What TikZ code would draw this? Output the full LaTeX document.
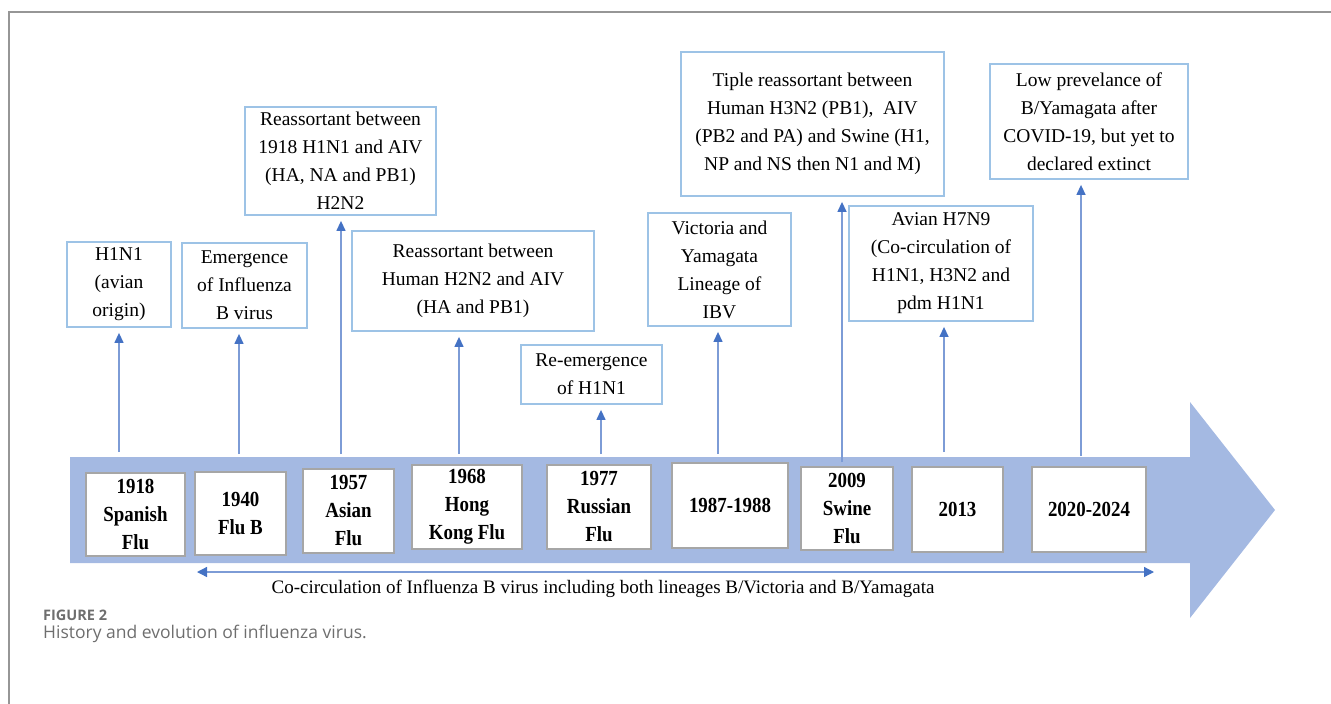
\documentclass[tikz,border=0pt]{standalone}
\usepackage{fontspec}
\setmainfont{Liberation Serif}
\newfontfamily\capfont{Open Sans}
\newfontfamily\yearfont{Liberation Serif}[FakeStretch=0.88]
\usetikzlibrary{arrows.meta}
\definecolor{bandblue}{RGB}{164,185,226}
\definecolor{boxblue}{RGB}{157,195,230}
\definecolor{shaftblue}{RGB}{125,156,214}
\definecolor{tipblue}{RGB}{68,114,196}
\definecolor{yrgray}{RGB}{166,166,166}
\definecolor{framegray}{RGB}{150,150,150}
\definecolor{capgray}{RGB}{110,110,110}
\tikzset{
  evt_b/.style = {draw=boxblue, line width=1.8pt, fill=white, align=center,
    inner sep=0pt, font=\fontsize{19.5}{28}\selectfont},% event box, blue frame
  yr_b/.style = {draw=yrgray, line width=1.8pt, fill=white, align=center,
    inner sep=0pt, font=\yearfont\bfseries\fontsize{21.5}{28}\selectfont},% year box on the band
  up_arr/.style = {draw=shaftblue, line width=1.3pt,
    -{Triangle[width=9pt,length=10pt,color=tipblue]}, shorten >=5pt}% year -> event
}

\begin{document}
\begin{tikzpicture}[x=1pt,y=-1pt]

	\useasboundingbox (0,0) rectangle (1331,704);
	\draw[framegray, line width=1.2pt] (9,704) -- (9,12) -- (1331,12);

	% time band
	\fill[bandblue] (70,457) -- (1190,457) -- (1190,402) -- (1275,510)
		-- (1190,618) -- (1190,563) -- (70,563) -- cycle;

	% years
	\node [yr_b, minimum width=99pt, minimum height=83pt] (y1918) at (135.5,514.5) {1918\\Spanish\\Flu};
	\node [yr_b, minimum width=91pt, minimum height=83pt] (y1940) at (240.5,513.5) {1940\\Flu B};
	\node [yr_b, minimum width=91pt, minimum height=84pt] (y1957) at (348.5,511) {1957\\Asian\\Flu};
	\node [yr_b, minimum width=110pt, minimum height=84pt] (y1968) at (467,507) {1968\\Hong\\Kong Flu};
	\node [yr_b, minimum width=104pt, minimum height=84pt] (y1977) at (599,507) {1977\\Russian\\Flu};
	\node [yr_b, minimum width=116pt, minimum height=85pt] (y1987) at (730,505.5) {1987-1988};
	\node [yr_b, minimum width=92pt, minimum height=83pt] (y2009) at (847,508.5) {2009\\Swine\\Flu};
	\node [yr_b, minimum width=91pt, minimum height=85pt] (y2013) at (957.5,509.5) {2013};
	\node [yr_b, minimum width=114pt, minimum height=85pt] (y2020) at (1089,509.5) {2020-2024};

	% events
	\node [evt_b, minimum width=104pt, minimum height=85pt] (h1n1) at (119,284.5) {H1N1\\(avian\\origin)};
	\node [evt_b, minimum width=125pt, minimum height=85pt] (flub) at (244.5,285.5) {Emergence\\of Influenza\\B virus};
	\node [evt_b, minimum width=191pt, minimum height=108pt] (h2n2) at (340.5,161) {Reassortant between\\1918 H1N1 and AIV\\(HA, NA and PB1)\\H2N2};
	\node [evt_b, minimum width=242pt, minimum height=100pt] (hkflu) at (473,281) {Reassortant between\\Human H2N2 and AIV\\(HA and PB1)};
	\node [evt_b, minimum width=141pt, minimum height=59pt] (reem) at (591.5,374.5) {Re-emergence\\of H1N1};
	\node [evt_b, minimum width=143pt, minimum height=113pt] (vicyam) at (719.5,269.5) {Victoria and\\Yamagata\\Lineage of\\IBV};
	\node [evt_b, minimum width=263pt, minimum height=144pt] (triple) at (812.5,124) {Tiple reassortant between\\Human H3N2 (PB1),~~AIV\\(PB2 and PA) and Swine (H1,\\NP and NS then N1 and M)};
	\node [evt_b, minimum width=184pt, minimum height=115pt] (h7n9) at (941,263.5) {Avian H7N9\\(Co-circulation of\\H1N1, H3N2 and\\pdm H1N1};
	\node [evt_b, minimum width=198pt, minimum height=115pt] (lowyam) at (1089,121.5) {Low prevelance of\\B/Yamagata after\\COVID-19, but yet to\\declared extinct};

	% arrows up from the band
	\coordinate (a1918) at (119,452);
	\coordinate (a1940) at (239,454);
	\coordinate (a1957) at (341,454);
	\coordinate (a1968) at (459,454);
	\coordinate (a1977) at (601,454);
	\coordinate (a1987) at (718,454);
	\coordinate (a2009) at (842,462);
	\coordinate (a2013) at (944,452);
	\coordinate (a2020) at (1081,456);
	\draw [up_arr] (a1918) -- (a1918 |- h1n1.south);
	\draw [up_arr] (a1940) -- (a1940 |- flub.south);
	\draw [up_arr] (a1957) -- (a1957 |- h2n2.south);
	\draw [up_arr] (a1968) -- (a1968 |- hkflu.south);
	\draw [up_arr] (a1977) -- (a1977 |- reem.south);
	\draw [up_arr] (a1987) -- (a1987 |- vicyam.south);
	\draw [up_arr] (a2009) -- (a2009 |- triple.south);
	\draw [up_arr] (a2013) -- (a2013 |- h7n9.south);
	\draw [up_arr] (a2020) -- (a2020 |- lowyam.south);

	% co-circulation span
	\coordinate (cl) at (197,572);
	\coordinate (cr) at (1154,572);
	\draw [shaftblue, line width=1.3pt, {Triangle[width=10pt,length=10pt,color=tipblue]}-{Triangle[width=10pt,length=10pt,color=tipblue]}] (cl) -- (cr);
	\node [font=\fontsize{19}{22}\selectfont] (cocirc) at (603,589) {Co-circulation of Influenza B virus including both lineages B/Victoria and B/Yamagata};

	% caption
	\node [anchor=base west, inner sep=0pt, text=capgray, font=\capfont\bfseries\fontsize{14.5}{17}\selectfont] (figno) at (43,620) {FIGURE 2};
	\node [anchor=base west, inner sep=0pt, text=capgray, font=\capfont\fontsize{17.5}{20}\selectfont] (figcap) at (43,638) {History and evolution of influenza virus.};

\end{tikzpicture}
\end{document}
